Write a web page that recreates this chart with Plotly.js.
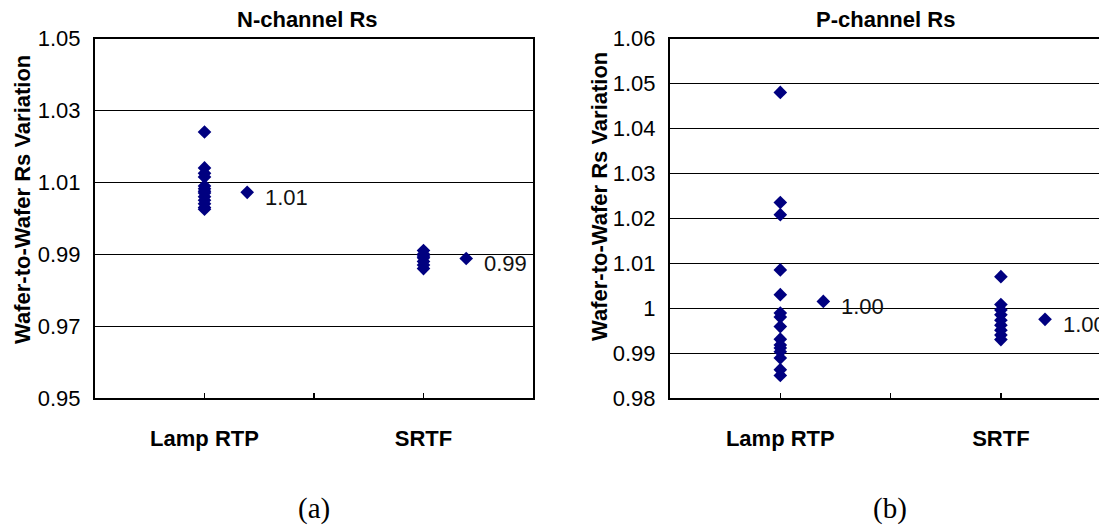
<!DOCTYPE html>
<html>
<head>
<meta charset="utf-8">
<script src="https://cdn.plot.ly/plotly-3.0.1.min.js"></script>
<style>
  html, body { margin: 0; padding: 0; background: #ffffff; overflow: hidden; }
  #chart { width: 1099px; height: 525px; }
</style>
</head>
<body>
<div id="chart"></div>
<script>
// ---- data ----
const categories = ["Lamp RTP", "SRTF"];
const categoryPos = [1, 3];
const panelTitles = ["N-channel Rs", "P-channel Rs"];
const panelLetters = ["(a)", "(b)"];
const yAxisTitle = "Wafer-to-Wafer Rs Variation";

// N-channel
const nLampY = [1.024, 1.014, 1.0125, 1.0115, 1.009, 1.0082, 1.0075, 1.007, 1.006, 1.005, 1.004, 1.003, 1.0025];
const nSrtfY = [0.991, 0.990, 0.9895, 0.989, 0.988, 0.987, 0.986];
const nMeanX = [1.39, 3.39];
const nMeanY = [1.0072, 0.9888];
const nMeanLabels = ["1.01", "0.99"];
const nTickVals = [0.95, 0.97, 0.99, 1.01, 1.03, 1.05];
const nTickText = ["0.95", "0.97", "0.99", "1.01", "1.03", "1.05"];

// P-channel
const pLampY = [1.048, 1.0235, 1.0208, 1.0085, 1.003, 0.9989, 0.998, 0.9959, 0.9931, 0.9918, 0.9911, 0.9903, 0.9889, 0.9863, 0.985];
const pSrtfY = [1.007, 1.0008, 0.9996, 0.9985, 0.9973, 0.9962, 0.9951, 0.994, 0.993];
const pMeanX = [1.39, 3.40];
const pMeanY = [1.0015, 0.9975];
const pMeanLabels = ["1.00", "1.00"];
const pTickVals = [0.98, 0.99, 1.00, 1.01, 1.02, 1.03, 1.04, 1.05, 1.06];
const pTickText = ["0.98", "0.99", "1", "1.01", "1.02", "1.03", "1.04", "1.05", "1.06"];

// ---- styling ----
const W = 1099, H = 525;
const navy = "#000080";
const sans = "Liberation Sans, Arial, sans-serif";
const px = v => v / W;
const py = v => 1 - v / H;
const mk = { symbol: "diamond", size: 10.5, color: navy, line: { width: 0 } };

function pts(xv, ys, xa, ya) {
  return { type: "scatter", mode: "markers", x: ys.map(() => xv), y: ys,
           xaxis: xa, yaxis: ya, marker: mk, hoverinfo: "skip", showlegend: false };
}

const traces = [
  pts(categoryPos[0], nLampY, "x", "y"),
  pts(categoryPos[1], nSrtfY, "x", "y"),
  { type: "scatter", mode: "markers", x: nMeanX, y: nMeanY, xaxis: "x", yaxis: "y", marker: mk, showlegend: false, hoverinfo: "skip" },
  pts(categoryPos[0], pLampY, "x2", "y2"),
  pts(categoryPos[1], pSrtfY, "x2", "y2"),
  { type: "scatter", mode: "markers", x: pMeanX, y: pMeanY, xaxis: "x2", yaxis: "y2", marker: mk, showlegend: false, hoverinfo: "skip" }
];

const xCommon = {
  tickmode: "array",
  tickvals: [1, 2, 3, 4],
  ticktext: [categories[0], "", categories[1], ""],
  ticks: "inside", ticklen: 5, tickwidth: 1.5, tickcolor: "#000",
  ticklabelstandoff: 20,
  tickfont: { family: sans, size: 22, color: "#000", weight: "bold" },
  showgrid: false, zeroline: false,
  showline: true, linecolor: "#000", linewidth: 2, mirror: true,
  fixedrange: true
};
const yCommon = {
  tickmode: "array",
  ticks: "inside", ticklen: 0, tickcolor: "#000",
  ticklabelstandoff: 8,
  tickfont: { family: sans, size: 22, color: "#000" },
  showgrid: true, gridcolor: "#000", gridwidth: 1,
  zeroline: false, showline: true, linecolor: "#000", linewidth: 2,
  fixedrange: true
};

const yTop = py(38.5), yBot = py(398);

const layout = {
  width: W, height: H, autosize: false,
  margin: { l: 0, r: 0, t: 0, b: 0 },
  paper_bgcolor: "#fff", plot_bgcolor: "#fff",
  showlegend: false,
  xaxis: Object.assign({}, xCommon, { domain: [px(95), px(533)], range: [0, 4], anchor: "y" }),
  yaxis: Object.assign({}, yCommon, { domain: [yBot, yTop], range: [0.95, 1.05],
          tickvals: nTickVals, ticktext: nTickText, mirror: true, anchor: "x" }),
  xaxis2: Object.assign({}, xCommon, { domain: [px(670), 1], range: [0, (W - 670) / 110.3], anchor: "y2" }),
  yaxis2: Object.assign({}, yCommon, { domain: [yBot, yTop], range: [0.98, 1.06],
          tickvals: pTickVals, ticktext: pTickText, mirror: false, anchor: "x2" }),
  annotations: []
};

const ann = layout.annotations;
// panel titles
[[307, panelTitles[0]], [885, panelTitles[1]]].forEach(([cx, t]) => ann.push({
  xref: "paper", yref: "paper", x: px(cx), y: py(20), xanchor: "center", yanchor: "middle",
  text: t, showarrow: false, font: { family: sans, size: 22, color: "#000", weight: "bold" }
}));
// y-axis titles
[[22, 200], [599, 197]].forEach(([cx, cy]) => ann.push({
  xref: "paper", yref: "paper", x: px(cx), y: py(cy), xanchor: "center", yanchor: "middle",
  text: yAxisTitle, textangle: -90, showarrow: false,
  font: { family: sans, size: 22, color: "#000", weight: "bold" }
}));
// panel letters
[[314, panelLetters[0]], [890, panelLetters[1]]].forEach(([cx, t]) => ann.push({
  xref: "paper", yref: "paper", x: px(cx), y: py(508), xanchor: "center", yanchor: "middle",
  text: t, showarrow: false, font: { family: "Liberation Serif, Times New Roman, serif", size: 29, color: "#000" }
}));
// mean labels
nMeanX.forEach((xv, i) => ann.push({
  xref: "x", yref: "y", x: xv, y: nMeanY[i], xanchor: "left", yanchor: "middle",
  xshift: 16, yshift: -5, text: nMeanLabels[i], showarrow: false,
  font: { family: sans, size: 22, color: "#111" }
}));
pMeanX.forEach((xv, i) => ann.push({
  xref: "x2", yref: "y2", x: xv, y: pMeanY[i], xanchor: "left", yanchor: "middle",
  xshift: 16, yshift: -5, text: pMeanLabels[i], showarrow: false,
  font: { family: sans, size: 22, color: "#111" }
}));

Plotly.newPlot("chart", traces, layout, { staticPlot: true, displayModeBar: false });
</script>
</body>
</html>
